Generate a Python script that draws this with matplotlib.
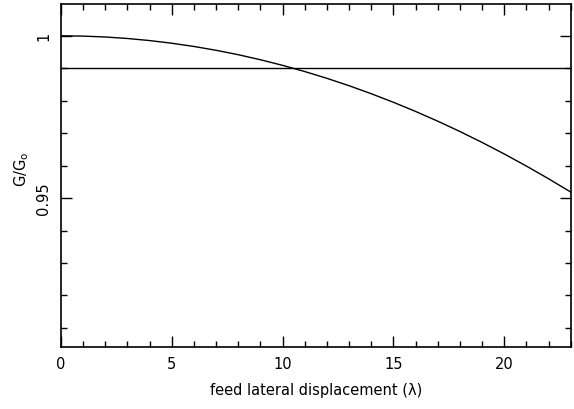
import matplotlib
matplotlib.use("Agg")
import matplotlib.pyplot as plt
from matplotlib.ticker import MultipleLocator

# gain loss vs feed lateral displacement
offset = [0, 1, 2, 3, 4, 5, 6, 7, 8, 9, 10, 11, 12,
          13, 14, 15, 16, 17, 18, 19, 20, 21, 22, 23]
gain = [1.0, 0.99991, 0.99964, 0.99918, 0.99854, 0.99772, 0.99672,
        0.99554, 0.99418, 0.99263, 0.99090, 0.98899, 0.98690,
        0.98462, 0.98216, 0.97952, 0.97670, 0.97370, 0.97052,
        0.96715, 0.96360, 0.95987, 0.95596, 0.95186]
ref_level = 0.99

plt.rcParams["font.family"] = "DejaVu Sans"

fig = plt.figure(figsize=(5.74, 4.10), dpi=100)
ax = fig.add_axes([61 / 574, 1 - 347.7 / 410, (570.7 - 61) / 574, (347.7 - 4.7) / 410])

ax.plot(offset, gain, color="black", lw=1.0)
ax.axhline(ref_level, color="black", lw=1.0)

ax.set_xlim(0, 23)
ax.set_ylim(0.9042, 1.0099)

ax.xaxis.set_major_locator(MultipleLocator(5))
ax.xaxis.set_minor_locator(MultipleLocator(1))
ax.yaxis.set_minor_locator(MultipleLocator(0.01))
ax.set_yticks([0.95, 1.0])
ax.set_yticklabels(["0.95", "1"], rotation=90, va="center")

ax.tick_params(which="both", direction="in", top=True, right=True,
               width=1.0, labelsize=10.5, color="black")
ax.tick_params(which="major", length=8)
ax.tick_params(which="minor", length=4)
ax.tick_params(axis="x", pad=6.5)
ax.tick_params(axis="y", pad=7)
for s in ax.spines.values():
    s.set_linewidth(1.2)

ax.set_xlabel("feed lateral displacement (λ)", fontsize=10.5)
ax.set_ylabel(r"G/G$_{\rm o}$", fontsize=10.5)
ax.xaxis.set_label_coords(0.5, -0.103)
ax.yaxis.set_label_coords(-0.059, 0.521)

fig.savefig("out.png", dpi=100)
